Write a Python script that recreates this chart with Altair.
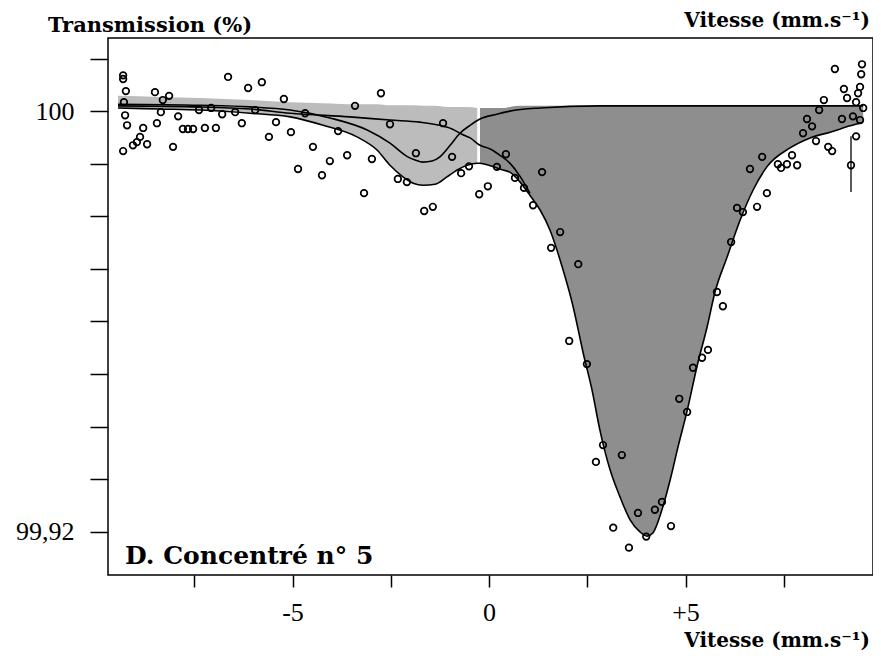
import altair as alt
import pandas as pd

# ---------------- data ----------------
# fitted envelope (total fit) and upper edge of shaded region, on a common velocity grid
fit_vel = [-9.44, -8.37, -7.35, -6.08, -5.06, -4.22, -3.36, -2.85, -2.52, -2.19,
           -1.93, -1.68, -1.37, -1.07, -0.81, -0.56, -0.30, -0.23, 0.03, 0.36,
           0.53, 0.79, 1.04, 1.30, 1.55, 1.86, 2.14, 2.27, 2.39, 2.62,
           2.82, 3.08, 3.33, 3.59, 3.84, 4.02, 4.17, 4.40, 4.61, 4.81,
           5.04, 5.29, 5.55, 5.75, 6.06, 6.39, 6.72, 7.07, 7.66, 8.17,
           8.68, 9.19, 9.52]
fit_total = [100.0006, 100.0004, 100.0002, 99.9996, 99.9989, 99.9973, 99.9951, 99.9926, 99.9897, 99.9875,
             99.9863, 99.9859, 99.9861, 99.9875, 99.9888, 99.9897, 99.9901, 99.9901, 99.9896, 99.9888,
             99.9884, 99.9865, 99.9840, 99.9812, 99.9774, 99.9704, 99.9628, 99.9584, 99.9542, 99.9470,
             99.9394, 99.9318, 99.9267, 99.9223, 99.9200, 99.9192, 99.9198, 99.9242, 99.9299, 99.9362,
             99.9430, 99.9514, 99.9590, 99.9656, 99.9723, 99.9793, 99.9850, 99.9894, 99.9930, 99.9949,
             99.9960, 99.9972, 99.9979]
fit_base = [100.0029, 100.0027, 100.0025, 100.0021, 100.0017, 100.0015, 100.0013, 100.0013, 100.0011, 100.0011,
            100.0011, 100.0010, 100.0010, 100.0008, 100.0008, 100.0008, 100.0006, 100.0006, 100.0006, 100.0006,
            100.0008, 100.0010, 100.0010, 100.0010, 100.0010, 100.0010, 100.0010, 100.0010, 100.0010, 100.0010,
            100.0010, 100.0010, 100.0010, 100.0010, 100.0010, 100.0010, 100.0010, 100.0010, 100.0010, 100.0010,
            100.0010, 100.0010, 100.0010, 100.0010, 100.0010, 100.0010, 100.0010, 100.0010, 100.0010, 100.0010,
            100.0010, 100.0010, 100.0010]

# sub-spectrum 1 (small site near -1.7 mm/s)
c1_vel = [-9.44, -7.35, -6.08, -5.06, -4.05, -3.10, -2.52, -2.09, -1.88, -1.68,
          -1.45, -1.25, -0.99, -0.74, -0.48, -0.23, 0.20, 0.53, 1.30, 2.82,
          5.37, 9.52]
c1_fit = [100.0013, 100.0011, 100.0008, 100.0002, 99.9987, 99.9964, 99.9939, 99.9914, 99.9907, 99.9903,
          99.9905, 99.9913, 99.9935, 99.9958, 99.9973, 99.9985, 99.9994, 100.0000, 100.0006, 100.0010,
          100.0010, 100.0010]

# sub-spectrum 2 (large site), left tail until it joins the envelope
c2_vel = [-9.44, -7.35, -6.08, -5.06, -3.54, -2.52, -1.76, -1.25, -0.94, -0.69,
          -0.48, -0.23, 0.03, 0.28, 0.53, 0.79, 1.04]
c2_fit = [100.0010, 100.0008, 100.0004, 99.9996, 99.9989, 99.9983, 99.9979, 99.9973, 99.9966, 99.9956,
          99.9949, 99.9935, 99.9928, 99.9916, 99.9901, 99.9876, 99.9844]

# measured points
pt_vel = [-9.31, -9.31, -9.24, -9.29, -9.26, -9.21, -9.31, -9.06, -8.96, -8.88,
          -8.70, -8.80, -8.50, -8.45, -8.35, -8.30, -8.14, -8.04, -7.91, -7.79,
          -7.66, -7.53, -7.38, -7.23, -7.07, -6.95, -6.79, -6.64, -6.46, -6.29,
          -6.13, -5.95, -5.78, -5.60, -5.42, -5.22, -5.04, -4.86, -4.68, -4.48,
          -4.25, -4.05, -3.84, -3.61, -3.41, -3.18, -2.98, -2.75, -2.52, -2.32,
          -2.09, -1.86, -1.65, -1.43, -1.17, -0.94, -0.71, -0.51, -0.25, -0.03,
          0.20, 0.43, 0.66, 0.89, 1.12, 1.35, 1.58, 1.81, 2.27, 2.04,
          2.49, 2.72, 2.90, 3.16, 3.38, 3.56, 3.79, 4.00, 4.22, 4.40,
          4.63, 4.84, 5.04, 5.19, 5.42, 5.57, 5.80, 5.95, 6.16, 6.31,
          6.46, 6.82, 6.64, 6.95, 7.07, 7.35, 7.43, 7.58, 7.71, 7.84,
          7.99, 8.09, 8.22, 8.32, 8.40, 8.52, 8.63, 8.73, 8.80, 8.98,
          9.03, 9.11, 9.21, 9.26, 9.34, 9.34, 9.39, 9.44, 9.44, 9.47,
          9.49, 9.52]
pt_trans = [100.0068, 100.0061, 100.0038, 100.0017, 99.9992, 99.9973, 99.9924, 99.9935, 99.9941, 99.9951,
            99.9937, 99.9968, 100.0036, 99.9977, 99.9998, 100.0021, 100.0029, 99.9932, 99.9990, 99.9966,
            99.9966, 99.9966, 100.0002, 99.9968, 100.0006, 99.9968, 99.9994, 100.0065, 99.9998, 99.9977,
            100.0044, 100.0002, 100.0055, 99.9951, 99.9979, 100.0023, 99.9960, 99.9890, 99.9996, 99.9932,
            99.9878, 99.9905, 99.9962, 99.9916, 100.0010, 99.9844, 99.9909, 100.0034, 99.9975, 99.9871,
            99.9865, 99.9920, 99.9810, 99.9818, 99.9977, 99.9913, 99.9882, 99.9895, 99.9842, 99.9857,
            99.9894, 99.9918, 99.9873, 99.9854, 99.9821, 99.9884, 99.9740, 99.9770, 99.9709, 99.9563,
            99.9519, 99.9333, 99.9365, 99.9208, 99.9346, 99.9170, 99.9236, 99.9191, 99.9242, 99.9257,
            99.9211, 99.9453, 99.9428, 99.9512, 99.9531, 99.9546, 99.9656, 99.9629, 99.9751, 99.9816,
            99.9808, 99.9818, 99.9890, 99.9913, 99.9844, 99.9899, 99.9892, 99.9899, 99.9916, 99.9897,
            99.9958, 99.9985, 99.9971, 99.9943, 100.0002, 100.0021, 99.9932, 99.9924, 100.0080, 99.9985,
            100.0042, 100.0025, 99.9897, 99.9990, 100.0017, 99.9952, 100.0034, 100.0046, 99.9983, 100.0070,
            100.0089, 100.0006]

# error bar on one point
err_vel = [9.21]
err_low = [99.9846]
err_high = [99.9952]

# ---------------- chart ----------------
fit = pd.DataFrame({"v": fit_vel, "base": fit_base, "total": fit_total})
c1 = pd.DataFrame({"v": c1_vel, "t": c1_fit})
c2 = pd.DataFrame({"v": c2_vel, "t": c2_fit})
pts = pd.DataFrame({"v": pt_vel, "t": pt_trans})
err = pd.DataFrame({"v": err_vel, "lo": err_low, "hi": err_high})
one = pd.DataFrame({"a": [0]})

FONT = "Liberation Serif"
BOLD_FONT = "DejaVu Serif"
X = alt.Scale(domain=[-9.695, 9.77], nice=False, zero=False)
Y = alt.Scale(domain=[99.9118, 100.0139], nice=False, zero=False)

xaxis = alt.Axis(
    values=[-7.5, -5, -2.5, 0, 2.5, 5, 7.5],
    labelExpr="datum.value == -5 ? '-5' : datum.value == 0 ? '0' : datum.value == 5 ? '+5' : ''",
    title=None, domain=False, grid=False, tickSize=12, tickWidth=1.5, tickColor="black",
    labelFont=FONT, labelFontSize=26, labelColor="black", labelPadding=12,
    labelBaseline="top", labelFlush=False,
)
yaxis = alt.Axis(
    values=[100.01, 100.0, 99.99, 99.98, 99.97, 99.96, 99.95, 99.94, 99.93, 99.92],
    labelExpr="abs(datum.value - 100) < 0.0001 ? '100' : abs(datum.value - 99.92) < 0.0001 ? '99,92' : ''",
    title=None, domain=False, grid=False, tickSize=18, tickWidth=1.5, tickColor="black",
    labelFont=FONT, labelFontSize=26, labelColor="black", labelPadding=16,
    labelBaseline="middle", labelFlush=False,
)

light = alt.Chart(fit).transform_filter(alt.datum.v <= -0.29).mark_area(
    color="#bcbcbc", interpolate="monotone"
).encode(
    x=alt.X("v:Q", scale=X, axis=xaxis),
    y=alt.Y("base:Q", scale=Y, axis=yaxis),
    y2="total:Q",
)
dark = alt.Chart(fit).transform_filter(alt.datum.v >= -0.24).mark_area(
    color="#8e8e8e", interpolate="monotone"
).encode(
    x=alt.X("v:Q", scale=X),
    y=alt.Y("base:Q", scale=Y),
    y2="total:Q",
)

def curve(df, field):
    return alt.Chart(df).mark_line(color="black", strokeWidth=1.6, interpolate="monotone").encode(
        x=alt.X("v:Q", scale=X), y=alt.Y(field + ":Q", scale=Y)
    )

line_total = curve(fit, "total")
line_c1 = curve(c1, "t")
line_c2 = curve(c2, "t")

errbar = alt.Chart(err).mark_rule(color="black", strokeWidth=1.3).encode(
    x=alt.X("v:Q", scale=X), y=alt.Y("lo:Q", scale=Y), y2="hi:Q"
)

points = alt.Chart(pts).mark_point(
    shape="circle", filled=False, size=44, strokeWidth=1.7, color="black", opacity=1
).encode(x=alt.X("v:Q", scale=X), y=alt.Y("t:Q", scale=Y))

def label(txt, x, y, size, align="left", font=BOLD_FONT, weight="bold"):
    return alt.Chart(one).mark_text(
        text=txt, font=font, fontSize=size, fontWeight=weight, align=align,
        baseline="alphabetic", color="black"
    ).encode(x=alt.value(x), y=alt.value(y))

t_ytitle = label("Transmission (%)", -60, -6, 21)
t_xtitle = label("Vitesse (mm.s\u207b\u00b9)", 762, 609, 20, align="right")
t_xtop = label("Vitesse (mm.s\u207b\u00b9)", 762, -11, 20, align="right")
t_sample = label("D. Concentré n° 5", 17, 526, 25)

chart = alt.layer(
    light, dark, line_c1, line_c2, line_total, errbar, points,
    t_ytitle, t_xtitle, t_xtop, t_sample
).properties(
    width=765, height=537,
    autosize=alt.AutoSizeParams(type="none"),
    padding={"left": 100, "top": 30, "right": 0, "bottom": 80},
    background="white",
).configure_view(stroke="black", strokeWidth=1.5)

chart.save("out.html", embed_options={"renderer": "svg", "actions": False})
